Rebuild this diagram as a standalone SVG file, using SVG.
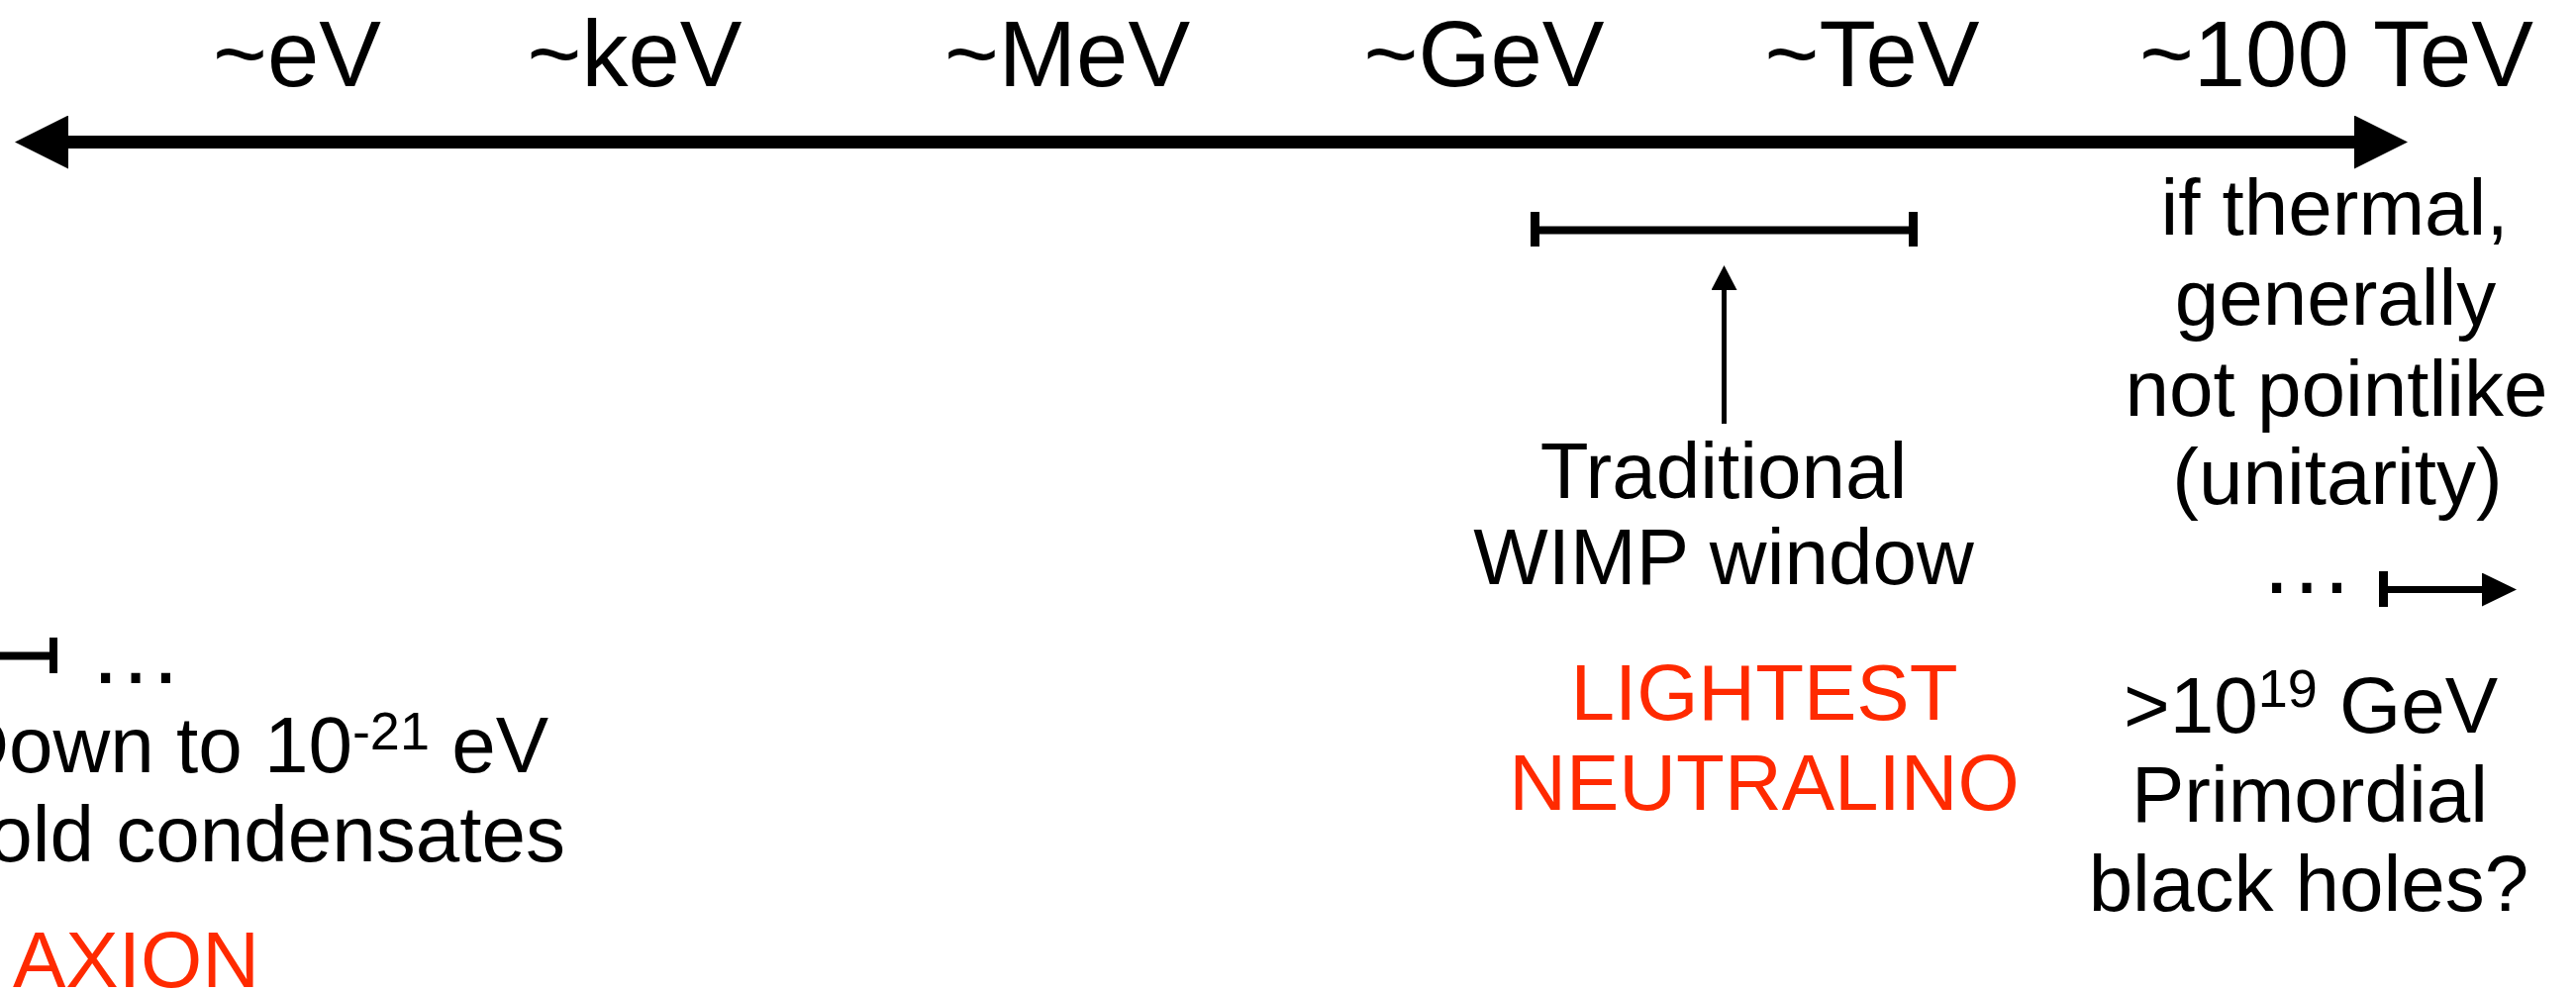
<svg xmlns="http://www.w3.org/2000/svg" width="2602" height="1002" viewBox="0 0 2602 1002">
  <style>
    text { font-family: "Liberation Sans", Arial, Helvetica, sans-serif; fill: #000; }
    .axis { font-size: 94px; text-anchor: middle; }
    .body { font-size: 80px; }
    .mid { text-anchor: middle; }
    .end { text-anchor: end; }
    .red { fill: #ff2a00; }
    .dots { font-size: 96px; text-anchor: middle; }
    .sup { font-size: 54px; }
    .ln { stroke: #000; fill: none; }
  </style>
  <defs>
    <marker id="bigHead" markerUnits="userSpaceOnUse" viewBox="0 0 54 54" markerWidth="54" markerHeight="54" refX="0" refY="27" orient="auto-start-reverse">
      <path d="M0,0 L54,27 L0,54 Z" fill="#000"/>
    </marker>
    <marker id="upHead" markerUnits="userSpaceOnUse" viewBox="0 0 25 26" markerWidth="25" markerHeight="26" refX="0" refY="13" orient="auto">
      <path d="M0,0 L25,13 L0,26 Z" fill="#000"/>
    </marker>
    <marker id="smallHead" markerUnits="userSpaceOnUse" viewBox="0 0 35 34" markerWidth="35" markerHeight="34" refX="0" refY="17" orient="auto">
      <path d="M0,0 L35,17 L0,34 Z" fill="#000"/>
    </marker>
  </defs>
  <rect width="2602" height="1002" fill="#fff"/>

  <g id="connectors">
    <line id="energy-axis" class="ln" x1="69" y1="143.5" x2="2378" y2="143.5" stroke-width="13" marker-start="url(#bigHead)" marker-end="url(#bigHead)"/>
    <line id="wimp-pointer" class="ln" x1="1741.5" y1="428" x2="1741.5" y2="293" stroke-width="5" marker-end="url(#upHead)"/>
    <g id="pbh-arrow">
      <line class="ln" x1="2407.5" y1="577" x2="2407.5" y2="613" stroke-width="9"/>
      <line class="ln" x1="2407" y1="595.5" x2="2507" y2="595.5" stroke-width="7" marker-end="url(#smallHead)"/>
    </g>
    <g id="axion-bracket">
      <line class="ln" x1="0" y1="662.5" x2="58" y2="662.5" stroke-width="8"/>
      <line class="ln" x1="54" y1="644" x2="54" y2="680" stroke-width="8"/>
    </g>
  </g>

  <g id="axis-labels">
    <text class="axis" x="300" y="87">~eV</text>
    <text class="axis" x="641" y="87">~keV</text>
    <text class="axis" x="1078" y="87">~MeV</text>
    <text class="axis" x="1499" y="87">~GeV</text>
    <text class="axis" x="1891" y="87">~TeV</text>
    <text class="axis" x="2360" y="87">~100 TeV</text>
  </g>

  <g id="wimp-window">
    <line class="ln" x1="1550" y1="232.5" x2="1933" y2="232.5" stroke-width="8"/>
    <line class="ln" x1="1550.5" y1="214" x2="1550.5" y2="249" stroke-width="9"/>
    <line class="ln" x1="1932.5" y1="214" x2="1932.5" y2="249" stroke-width="9"/>
    <text class="body mid" x="1741" y="503">Traditional</text>
    <text class="body mid" x="1741" y="590">WIMP window</text>
  </g>

  <g id="neutralino">
    <text class="body mid red" x="1782" y="727">LIGHTEST</text>
    <text class="body mid red" x="1782" y="818">NEUTRALINO</text>
  </g>

  <g id="axion">
    <text class="dots" x="137" y="690">…</text>
    <text class="body end" x="554" y="780">Down to 10<tspan class="sup" dy="-23">-21</tspan><tspan dy="23"> eV</tspan></text>
    <text class="body end" x="571" y="870">Cold condensates</text>
    <text class="body red" x="13" y="997">AXION</text>
  </g>

  <g id="thermal-limit">
    <text class="body mid" x="2358" y="237">if thermal,</text>
    <text class="body mid" x="2359" y="328">generally</text>
    <text class="body mid" x="2360" y="420">not pointlike</text>
    <text class="body mid" x="2361" y="509">(unitarity)</text>
  </g>

  <g id="black-holes">
    <text class="dots" x="2330" y="599">…</text>
    <text class="body mid" x="2334" y="740">&gt;10<tspan class="sup" dy="-26">19</tspan><tspan dy="26"> GeV</tspan></text>
    <text class="body mid" x="2333" y="830">Primordial</text>
    <text class="body mid" x="2332" y="920">black holes?</text>
  </g>
</svg>
